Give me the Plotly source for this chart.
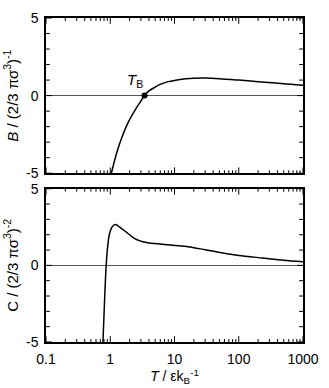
import plotly.graph_objects as go
from plotly.subplots import make_subplots
import math

# Second virial coefficient B
T_B = [1.04, 1.1, 1.2, 1.3, 1.5, 1.75, 2.0, 2.5, 3.0, 3.4, 4.0, 5.0, 6.0, 8.0, 10, 15, 20, 30, 50, 100, 200, 330, 500, 1000]
B_vals = [-5.0, -4.6, -4.0, -3.5, -2.75, -2.05, -1.55, -0.85, -0.35, 0.0, 0.3, 0.55, 0.72, 0.9, 0.98, 1.08, 1.12, 1.13, 1.09, 1.0, 0.9, 0.83, 0.76, 0.67]

# Third virial coefficient C
T_C = [0.77, 0.80, 0.83, 0.865, 0.90, 0.97, 1.09, 1.22, 1.4, 1.83, 2.3, 2.9, 3.66, 5, 7, 10.3, 16.3, 30, 65, 100, 234, 500, 1000]
C_vals = [-5.0, -3.2, -1.5, 0.0, 1.0, 2.03, 2.55, 2.66, 2.5, 2.13, 1.8, 1.6, 1.49, 1.42, 1.36, 1.3, 1.22, 1.02, 0.76, 0.65, 0.48, 0.33, 0.23]

boyle_T = [3.42]
boyle_B = [0.0]

x_tickvals = [0.1, 1, 10, 100, 1000]
x_ticktext = ["0.1", "1", "10", "100", "1000"]
x_minor = [k * 10 ** e for e in range(-1, 3) for k in range(2, 10)]
y_tickvals = [-5, 0, 5]
y_ticktext = ["-5", "0", "5"]
y_minor = [-4, -3, -2, -1, 1, 2, 3, 4]

FONT = "Liberation Sans, Arial, sans-serif"
X_LO, X_HI = 0.1, 1000
Y_LO, Y_HI = -5, 5

fig = make_subplots(rows=2, cols=1, vertical_spacing=0.048)

line = dict(color="black", width=1.5, shape="spline", smoothing=0.8)
fig.add_trace(go.Scatter(x=T_B, y=B_vals, mode="lines", line=line, showlegend=False, hoverinfo="skip"), row=1, col=1)
fig.add_trace(go.Scatter(x=boyle_T, y=boyle_B, mode="markers", marker=dict(color="black", size=6), showlegend=False), row=1, col=1)
fig.add_trace(go.Scatter(x=T_C, y=C_vals, mode="lines", line=line, showlegend=False, hoverinfo="skip"), row=2, col=1)


# tick marks on all four sides, built from the tick-value lists
def tick_segments(y_unit_per_px, x_dec_per_px):
    xs, ys = [], []
    for vals, lpx in ((x_tickvals, 6), (x_minor, 3)):
        L = lpx * y_unit_per_px
        for v in vals:
            xs += [v, v, None, v, v, None]
            ys += [Y_LO, Y_LO + L, None, Y_HI, Y_HI - L, None]
    for vals, lpx in ((y_tickvals, 6), (y_minor, 4)):
        f = 10 ** (lpx * x_dec_per_px)
        for v in vals:
            xs += [X_LO, X_LO * f, None, X_HI, X_HI / f, None]
            ys += [v, v, None, v, v, None]
    return xs, ys


tick_line = dict(color="black", width=1)
xs1, ys1 = tick_segments(10 / 160, 4 / 266)
xs2, ys2 = tick_segments(10 / 158, 4 / 266)
fig.add_trace(go.Scatter(x=xs1, y=ys1, mode="lines", line=tick_line, showlegend=False, hoverinfo="skip", connectgaps=False), row=1, col=1)
fig.add_trace(go.Scatter(x=xs2, y=ys2, mode="lines", line=tick_line, showlegend=False, hoverinfo="skip", connectgaps=False), row=2, col=1)

tickfont = dict(family=FONT, size=14, color="black")
fig.update_xaxes(type="log", range=[math.log10(X_LO), math.log10(X_HI)], tickmode="array",
                 tickvals=x_tickvals, ticktext=x_ticktext, ticks="", ticklabelstandoff=3,
                 showline=True, linecolor="black", linewidth=1.5, mirror=True,
                 showgrid=False, zeroline=False, tickfont=tickfont)
fig.update_yaxes(range=[Y_LO, Y_HI], tickmode="array", tickvals=y_tickvals, ticktext=y_ticktext, ticks="",
                 ticklabelstandoff=3,
                 showline=True, linecolor="black", linewidth=1.5, mirror=True,
                 showgrid=False, zeroline=True, zerolinecolor="#555", zerolinewidth=1, tickfont=tickfont)

fig.update_xaxes(showticklabels=False, row=1, col=1)
fig.update_xaxes(row=2, col=1,
                 title=dict(text="<i>T</i> / εk<sub>B</sub><sup>-1</sup>", font=dict(family=FONT, size=14, color="black"), standoff=2))
fig.update_yaxes(row=1, col=1, domain=[0.521, 1.0],
                 title=dict(text="<i>B</i> / (2/3 πσ<sup>3</sup>)<sup>-1</sup>", font=dict(family=FONT, size=15, color="black"), standoff=4))
fig.update_yaxes(row=2, col=1, domain=[0.0, 0.473],
                 title=dict(text="C / (2/3 πσ<sup>3</sup>)<sup>-2</sup>", font=dict(family=FONT, size=15, color="black"), standoff=4))

fig.add_annotation(x=math.log10(2.42), y=0.95, xref="x", yref="y", text="<i>T</i><sub>B</sub>", showarrow=False,
                   font=dict(family=FONT, size=15, color="black"))

fig.update_layout(width=329, height=388, margin=dict(l=46, r=17, t=10, b=44),
                  plot_bgcolor="white", paper_bgcolor="white", font=dict(family=FONT, color="black"))

fig.write_html("out.html")
